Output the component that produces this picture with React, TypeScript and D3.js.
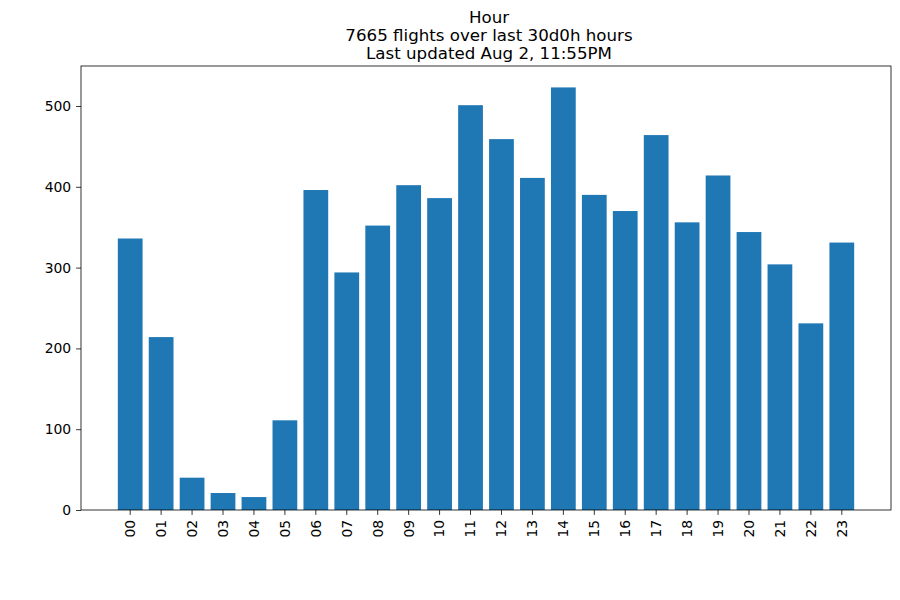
import { useEffect, useRef } from "react";
import * as d3 from "d3";

const hours = ["00", "01", "02", "03", "04", "05", "06", "07", "08", "09", "10", "11",
  "12", "13", "14", "15", "16", "17", "18", "19", "20", "21", "22", "23"];
const flights = [336, 214, 40, 21, 16, 111, 396, 294, 352, 402, 386, 501,
  459, 411, 523, 390, 370, 464, 356, 414, 344, 304, 231, 331];
const yTicks = [0, 100, 200, 300, 400, 500];
const titleLines = ["Hour", "7665 flights over last 30d0h hours", "Last updated Aug 2, 11:55PM"];

function Chart() {
  const ref = useRef<SVGSVGElement>(null);

  useEffect(() => {
    const w = 900;
    const h = 600;
    const left = 81, right = 891, top = 66, bottom = 510;
    const font = "DejaVu Sans, sans-serif";

    const svg = d3.select(ref.current)
      .attr("width", w)
      .attr("height", h)
      .style("background", "#fff");
    svg.selectAll("*").remove();

    const x = d3.scaleBand<string>()
      .domain(hours)
      .range([left, right])
      .paddingInner(0.2)
      .paddingOuter(1.19);

    const y = d3.scaleLinear()
      .domain([0, 549.5])
      .range([bottom, top]);

    svg.selectAll(".bar")
      .data(flights)
      .join("rect")
      .attr("class", "bar")
      .attr("x", (d, i) => x(hours[i])!)
      .attr("y", d => y(d))
      .attr("width", x.bandwidth())
      .attr("height", d => y(0) - y(d))
      .attr("fill", "#1f77b4");

    const xAxis = d3.axisBottom(x).tickSize(4.9).tickPadding(4.9).tickSizeOuter(0);
    const gx = svg.append("g")
      .attr("transform", `translate(0, ${bottom})`)
      .call(xAxis);
    gx.select(".domain").remove();
    gx.selectAll(".tick line").attr("stroke", "#000").attr("stroke-width", 0.8);
    gx.selectAll(".tick text")
      .attr("font-family", font)
      .attr("font-size", 13.9)
      .attr("fill", "#000")
      .attr("transform", "rotate(-90)")
      .attr("x", -9.8)
      .attr("y", 0)
      .attr("dy", "0.35em")
      .attr("text-anchor", "end");

    const yAxis = d3.axisLeft(y).tickValues(yTicks).tickSize(4.9).tickPadding(4.9);
    const gy = svg.append("g")
      .attr("transform", `translate(${left}, 0)`)
      .call(yAxis);
    gy.select(".domain").remove();
    gy.selectAll(".tick line").attr("stroke", "#000").attr("stroke-width", 0.8);
    gy.selectAll(".tick text")
      .attr("font-family", font)
      .attr("font-size", 13.9)
      .attr("fill", "#000");

    svg.append("rect")
      .attr("x", left)
      .attr("y", top)
      .attr("width", right - left)
      .attr("height", bottom - top)
      .attr("fill", "none")
      .attr("stroke", "#000")
      .attr("stroke-width", 0.8);

    svg.append("g")
      .selectAll("text")
      .data(titleLines)
      .join("text")
      .attr("x", (left + right) / 2 + 3)
      .attr("y", (d, i) => 23 + i * 17.9)
      .attr("text-anchor", "middle")
      .attr("font-family", font)
      .attr("font-size", 16.67)
      .attr("fill", "#000")
      .text(d => d);
  }, []);

  return <svg ref={ref} style={{ display: "block", position: "absolute", left: 0, top: 0 }} />;
}

export default function App() {
  return <Chart />;
}
